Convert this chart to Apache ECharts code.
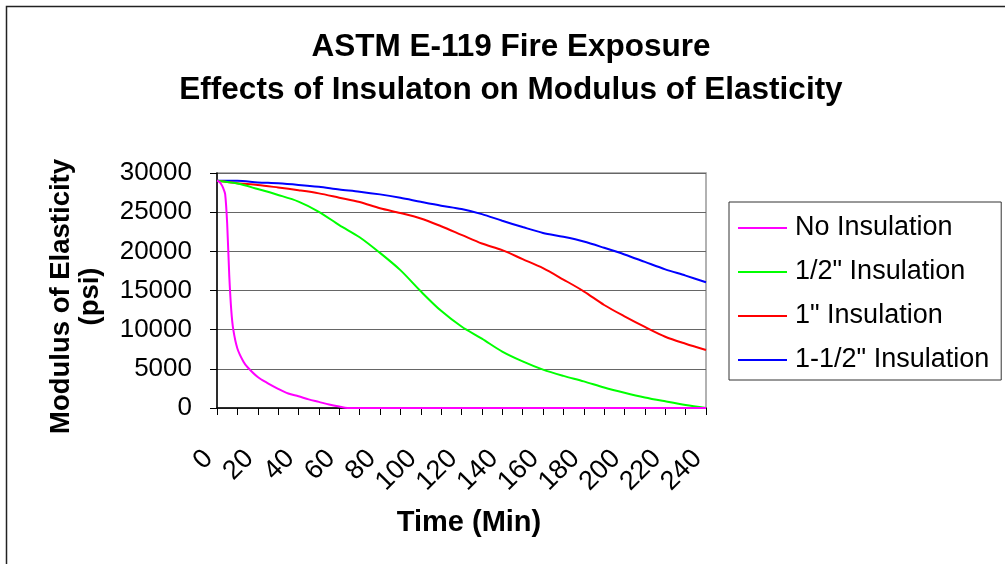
<!DOCTYPE html>
<html>
<head>
<meta charset="utf-8">
<script src="https://cdn.jsdelivr.net/npm/echarts@6/dist/echarts.min.js"></script>
<style>
  html, body { margin: 0; padding: 0; background: #fff; }
  #chart { width: 1005px; height: 564px; }
</style>
</head>
<body>
<div id="chart"></div>
<script>
// Exposure time (minutes) for the insulated specimens
const timesMin = [0, 10, 20, 30, 40, 50, 60, 70, 80, 90, 100, 110, 120,
                  130, 140, 150, 160, 170, 180, 190, 200, 210, 220, 230, 240];
// Exposure time (minutes) for the bare specimen (dense sampling at the early collapse)
const noInsTimes = [0, 1, 2, 3, 4, 5, 6, 7, 8, 10, 13, 15, 20, 25, 30, 35, 40,
                    45, 50, 55, 60, 64, 80, 120, 160, 200, 240];

// Modulus of elasticity (psi)
const noInsulation = [29000, 28900, 28600, 28100, 27300, 23500, 17000, 12500, 10000, 7600,
                      5900, 5200, 3950, 3150, 2450, 1850, 1500, 1100, 780, 450, 180, 0,
                      0, 0, 0, 0, 0];
const halfInch = [29000, 28650, 27950, 27200, 26350, 25050, 23350, 21800, 19800, 17600,
                  14900, 12400, 10400, 8850, 7200, 5950, 4900, 4100, 3400, 2620,
                  1950, 1350, 850, 380, 0];
const oneInch = [29000, 28700, 28480, 28150, 27800, 27400, 26850, 26300, 25500, 24900,
                 24200, 23200, 22100, 21000, 20150, 19000, 17850, 16400, 14900, 13150,
                 11700, 10350, 9100, 8200, 7400];
const oneHalfInch = [29000, 29000, 28800, 28680, 28480, 28230, 27900, 27620, 27270, 26830,
                     26320, 25830, 25400, 24750, 23900, 23100, 22350, 21850, 21250, 20450,
                     19600, 18650, 17700, 16900, 16050];

const seriesNames = ['No Insulation', '1/2" Insulation', '1" Insulation', '1-1/2" Insulation'];
const seriesColors = ['#FF00FF', '#00FF00', '#FF0000', '#0000FF'];

const pairs = (xs, ys) => xs.map((x, i) => [x, ys[i]]);
const seriesData = [
  pairs(noInsTimes, noInsulation),
  pairs(timesMin, halfInch),
  pairs(timesMin, oneInch),
  pairs(timesMin, oneHalfInch)
];

const FONT = 'Liberation Sans, Arial, sans-serif';

const chart = echarts.init(document.getElementById('chart'), null, { renderer: 'canvas' });
chart.setOption({
  backgroundColor: '#fff',
  animation: false,
  title: {
    text: 'ASTM E-119 Fire Exposure\nEffects of Insulaton on Modulus of Elasticity',
    left: 511,
    top: 26,
    textAlign: 'center',
    padding: 0,
    textStyle: { fontFamily: FONT, fontSize: 31.5, fontWeight: 'bold', color: '#000', lineHeight: 43 }
  },
  graphic: [{
    type: 'rect',
    shape: { x: 6.5, y: 6.5, width: 1020, height: 580 },
    style: { fill: 'none', stroke: '#222', lineWidth: 1.5 },
    silent: true
  }],
  legend: {
    orient: 'vertical',
    left: 729,
    top: 202,
    padding: [11, 12, 5, 9],
    itemWidth: 49,
    itemHeight: 14,
    itemGap: 14,
    borderColor: '#333',
    borderWidth: 1,
    icon: 'path://M0,6L49,6L49,8L0,8Z',
    data: seriesNames,
    textStyle: { fontFamily: FONT, fontSize: 27, color: '#000', lineHeight: 30, padding: [0, 0, 0, 3] }
  },
  grid: {
    left: 217, right: 299, top: 173, bottom: 156,
    show: true, borderColor: '#999', borderWidth: 1.5, backgroundColor: '#fff'
  },
  xAxis: {
    type: 'value',
    min: 0, max: 240, interval: 10,
    name: 'Time (Min)',
    nameLocation: 'middle',
    nameGap: 100,
    nameTextStyle: { fontFamily: FONT, fontSize: 29, fontWeight: 'bold', color: '#000', padding: [0, 0, 0, 15] },
    axisLine: { onZero: false, lineStyle: { color: '#000', width: 1.5 } },
    axisTick: { length: 7, lineStyle: { color: '#000', width: 1 } },
    splitLine: { show: false },
    axisLabel: {
      rotate: 45, margin: 38,
      padding: [0, 12, 0, 0],
      fontFamily: FONT, fontSize: 27, color: '#000',
      showMinLabel: true, showMaxLabel: true,
      formatter: v => (v % 20 === 0 ? String(v) : '')
    }
  },
  yAxis: {
    type: 'value',
    min: 0, max: 30000, interval: 5000,
    name: 'Modulus of Elasticity\n(psi)',
    nameLocation: 'middle',
    nameGap: 112,
    nameTextStyle: { fontFamily: FONT, fontSize: 27.5, fontWeight: 'bold', color: '#000', lineHeight: 29, padding: [0, 12, 0, 0] },
    axisLine: { show: true, lineStyle: { color: '#000', width: 1.5 } },
    axisTick: { show: true, length: 7, lineStyle: { color: '#000', width: 1 } },
    splitLine: { show: true, lineStyle: { color: '#666', width: 1 } },
    axisLabel: { margin: 25, fontFamily: FONT, fontSize: 26, color: '#000', formatter: v => String(v) }
  },
  series: seriesData.map((d, i) => ({
    name: seriesNames[i],
    type: 'line',
    data: d,
    showSymbol: false,
    symbol: 'none',
    smooth: 0.3,
    color: seriesColors[i],
    lineStyle: { color: seriesColors[i], width: 2 },
    z: 10 - i
  }))
});
</script>
</body>
</html>
